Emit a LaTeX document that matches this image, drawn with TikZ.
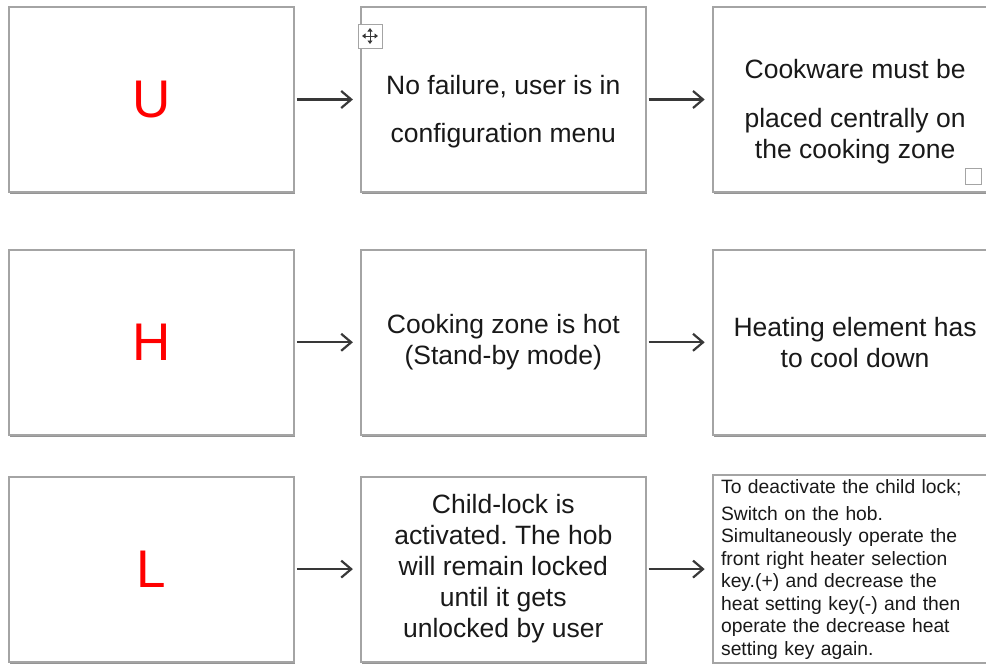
\documentclass[tikz,border=0pt]{standalone}
\usepackage{fontspec}
\setmainfont{Liberation Sans}
\usetikzlibrary{positioning,shadows,arrows.meta}
\definecolor{boxgray}{HTML}{A4A4A4}
\definecolor{arrowgray}{HTML}{383838}
\frenchspacing
\tikzset{
  box/.style={draw=boxgray, line width=1.8pt, fill=white, minimum width=285pt, minimum height=185pt,
    inner sep=4pt, align=center, text=black!90,
    drop shadow={shadow xshift=1.2pt, shadow yshift=-2.2pt, opacity=0.6, fill=black!70}},
  code/.style={box, text=red, font=\fontsize{53}{60}\selectfont},
  msg/.style={box, font=\fontsize{26.5}{31}\selectfont},
  steps/.style={box, align=left, text width=268pt, font=\fontsize{19.3}{22.5}\selectfont},
  arr/.style={draw=arrowgray, line width=2.2pt, shorten <=2pt, shorten >=7pt,
    -{Straight Barb[length=10pt,width=17pt,line width=2.2pt]}},
  marker/.style={draw=boxgray, fill=white, line width=0.9pt, inner sep=0pt}
}
\newcommand{\lowered}{\rule{0pt}{44pt}}
\begin{document}
\begin{tikzpicture}[x=1pt, y=-1pt]
\clip (0,0) rectangle (986,664);
% row 1
\node (u)[code] at (151.5,99.5) {U};
\node (nf)[msg, right = 65pt of u] {\lowered No failure, user is in\\[17pt]configuration menu};
\node (cw)[msg, right = 65pt of nf] {\lowered Cookware must be\\[18pt]placed centrally on\\the cooking zone};
% row 2
\node (h)[code, below = 56pt of u] {H};
\node (hot)[msg, right = 65pt of h] {Cooking zone is hot\\(Stand-by mode)};
\node (cool)[msg, right = 65pt of hot] {Heating element has\\to cool down};
% row 3
\node (l)[code, below = 40pt of h] {L};
\node (lock)[msg, right = 65pt of l] {Child-lock is\\activated. The hob\\will remain locked\\until it gets\\unlocked by user};
\node (unlock)[steps, right = 65pt of lock] {To deactivate the child lock;\\[4.5pt]Switch on the hob.\\Simultaneously operate the\\front right heater selection\\key.(+) and decrease the\\heat setting key(-) and then\\operate the decrease heat\\setting key again.};
% arrows
\draw[arr] (u)--(nf);
\draw[arr] (nf)--(cw);
\draw[arr] (h)--(hot);
\draw[arr] (hot)--(cool);
\draw[arr] (l)--(lock);
\draw[arr] (lock)--(unlock);
% editor marks
\node (grip)[marker, minimum size=24pt] at (370,36) {};
\draw[arrowgray, line width=1pt, {Triangle[length=3.5pt,width=5pt]}-{Triangle[length=3.5pt,width=5pt]}]
  ([xshift=-8pt]grip.center) -- ([xshift=8pt]grip.center);
\draw[arrowgray, line width=1pt, {Triangle[length=3.5pt,width=5pt]}-{Triangle[length=3.5pt,width=5pt]}]
  ([yshift=-8pt]grip.center) -- ([yshift=8pt]grip.center);
\node (corner)[marker, minimum size=16pt] at (973.5,176.5) {};
\end{tikzpicture}
\end{document}
